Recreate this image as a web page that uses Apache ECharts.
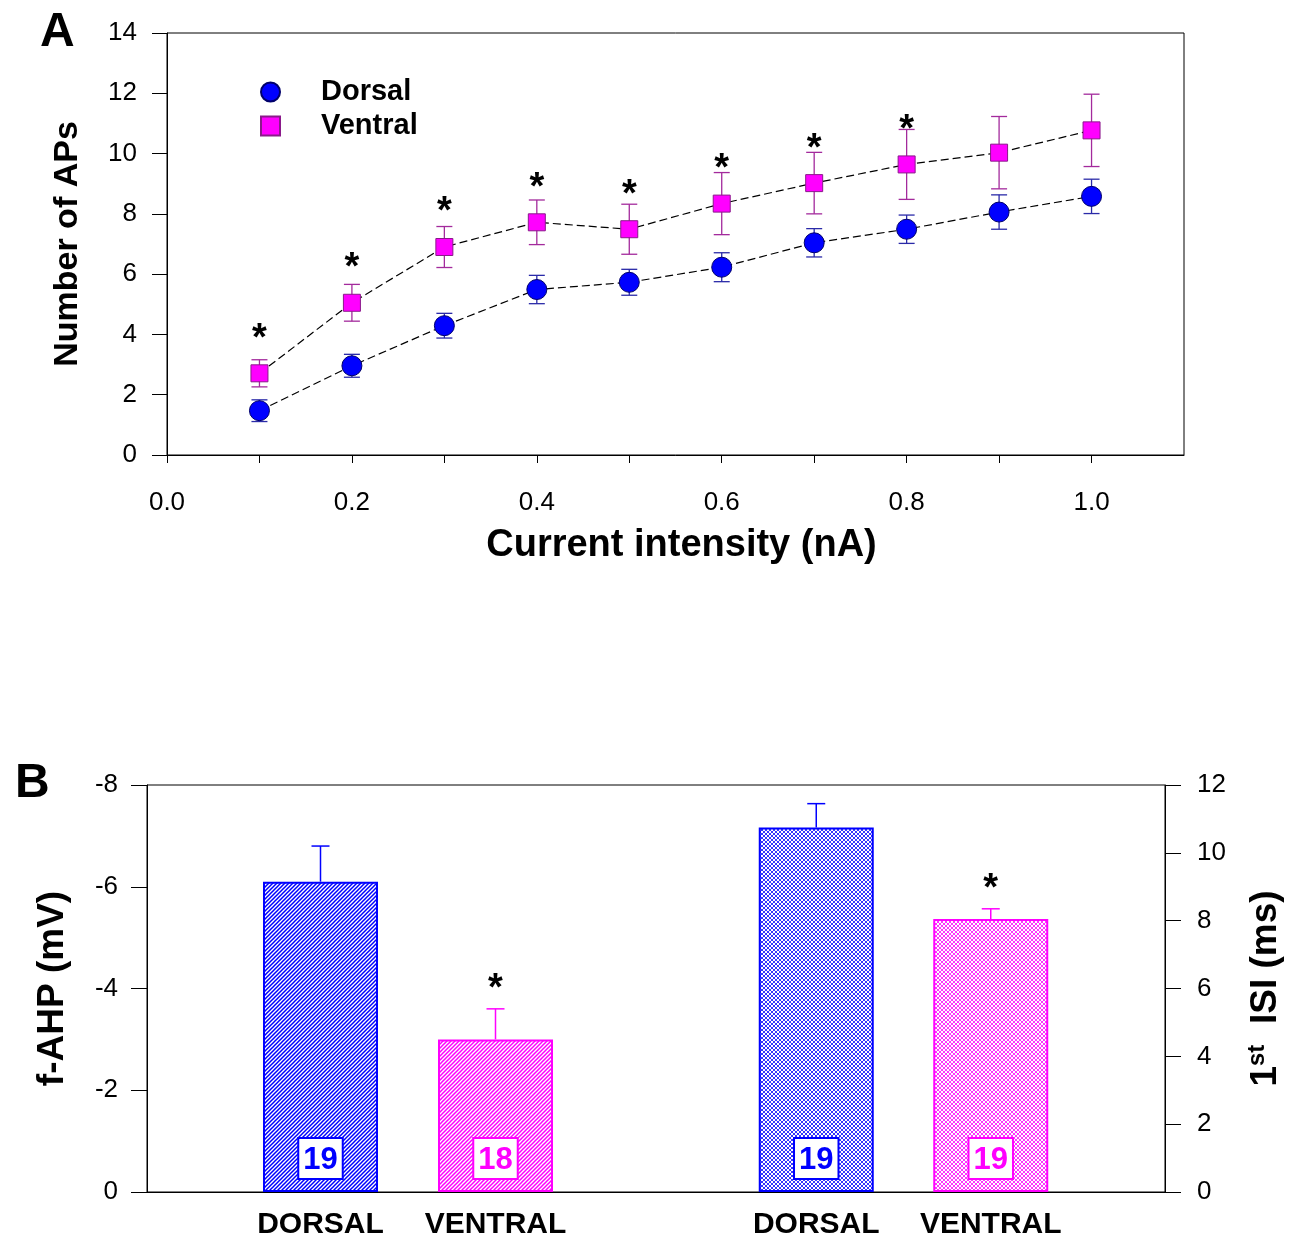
<!DOCTYPE html>
<html>
<head>
<meta charset="utf-8">
<script src="https://cdn.jsdelivr.net/npm/echarts@6/dist/echarts.min.js"></script>
<style>html,body{margin:0;padding:0;background:#fff}#c{width:1297px;height:1241px}</style>
</head>
<body>
<div id="c"></div>
<script>
// ---------- Panel A data ----------
const currentNA = [0.1, 0.2, 0.3, 0.4, 0.5, 0.6, 0.7, 0.8, 0.9, 1.0];
const dorsalMean = [1.47, 2.96, 4.29, 5.49, 5.73, 6.23, 7.04, 7.49, 8.06, 8.58];
const dorsalSem  = [0.36, 0.38, 0.41, 0.47, 0.43, 0.48, 0.47, 0.47, 0.57, 0.57];
const ventralMean = [2.71, 5.05, 6.90, 7.72, 7.49, 8.34, 9.02, 9.64, 10.03, 10.77];
const ventralSem  = [0.45, 0.61, 0.68, 0.74, 0.83, 1.03, 1.02, 1.16, 1.20, 1.20];
const topSignificant = [1, 1, 1, 1, 1, 1, 1, 1, 0, 0];

// ---------- Panel B data ----------
const groupLabels = ['DORSAL', 'VENTRAL'];
const fahpMean = [-6.1, -3.0];
const fahpSem  = [0.7, 0.6];
const fahpN    = [19, 18];
const fahpSig  = [0, 1];
const isiMean = [10.75, 8.05];
const isiSem  = [0.7, 0.3];
const isiN    = [19, 19];
const isiSig  = [0, 1];

const FONT = '"Liberation Sans", Arial, sans-serif';
const BLUE = '#0000ff', MAG = '#ff00ff';

function makePattern(color, cross) {
  const s = 4;
  const c = document.createElement('canvas');
  c.width = s; c.height = s;
  const ctx = c.getContext('2d');
  ctx.fillStyle = '#ffffff'; ctx.fillRect(0, 0, s, s);
  ctx.strokeStyle = color;
  ctx.lineWidth = cross ? 0.8 : 1.5;
  const seg = (x1, y1, x2, y2) => { ctx.beginPath(); ctx.moveTo(x1, y1); ctx.lineTo(x2, y2); ctx.stroke(); };
  for (let k = -s; k <= s; k += s) {
    seg(-1 + k, s + 1, s + 1 + k, -1);
    if (cross) seg(-1 + k, -1, s + 1 + k, s + 1);
  }
  return c;
}
const barColors = [BLUE, MAG];

function topErr(color) {
  return function (params, api) {
    const x = api.value(0), m = api.value(1), e = api.value(2);
    const t = api.coord([x, m + e]), b = api.coord([x, m - e]);
    const hw = 8;
    const st = { stroke: color, lineWidth: 1.3 };
    return { type: 'group', children: [
      { type: 'line', shape: { x1: t[0], y1: t[1], x2: b[0], y2: b[1] }, style: st },
      { type: 'line', shape: { x1: t[0] - hw, y1: t[1], x2: t[0] + hw, y2: t[1] }, style: st },
      { type: 'line', shape: { x1: b[0] - hw, y1: b[1], x2: b[0] + hw, y2: b[1] }, style: st }
    ]};
  };
}

function barErr(params, api) {
  const i = api.value(0), v = api.value(1), e = api.value(2), s = api.value(3);
  const base = api.coord([i, v]);
  const end = api.coord([i, v + Math.sign(v) * e]);
  const color = barColors[i];
  const st = { stroke: color, lineWidth: 1.5 };
  const ch = [
    { type: 'line', shape: { x1: base[0], y1: base[1], x2: end[0], y2: end[1] }, style: st },
    { type: 'line', shape: { x1: end[0] - 9, y1: end[1], x2: end[0] + 9, y2: end[1] }, style: st }
  ];
  if (s) ch.push({ type: 'text', style: { text: '*', x: end[0], y: end[1] - 19, fontSize: 38, fontWeight: 'bold', fontFamily: FONT, fill: '#000', align: 'center', verticalAlign: 'middle' } });
  return { type: 'group', children: ch };
}

function nLabel(color, arr) {
  return {
    show: true, position: 'insideBottom', distance: 14,
    formatter: p => String(arr[p.dataIndex]),
    color: color, fontSize: 31, fontWeight: 'bold', fontFamily: FONT,
    backgroundColor: '#fff', borderColor: color, borderWidth: 2,
    padding: [4, 4, 1, 4], lineHeight: 34
  };
}

const axisBlack = { lineStyle: { color: '#000', width: 1 } };

const option = {
  animation: false,
  backgroundColor: '#fff',
  textStyle: { fontFamily: FONT },
  title: [
    { text: 'A', left: 35, top: 4, textStyle: { fontSize: 48, fontWeight: 'bold', fontFamily: FONT, color: '#000' } },
    { text: 'B', left: 10, top: 755, textStyle: { fontSize: 48, fontWeight: 'bold', fontFamily: FONT, color: '#000' } }
  ],
  legend: {
    data: [{ name: 'Dorsal', icon: 'circle' }, { name: 'Ventral', icon: 'rect' }],
    orient: 'vertical', left: 255, top: 72,
    itemWidth: 19, itemHeight: 19, itemGap: 4,
    textStyle: { fontSize: 29, fontWeight: 'bold', fontFamily: FONT, color: '#000', padding: [0, 0, 0, 36], lineHeight: 30 }
  },
  grid: [
    { left: 167, right: 113, top: 33, bottom: 786, show: true, borderColor: '#000', borderWidth: 1 },
    { left: 147, right: 132, top: 785, bottom: 49, show: true, borderColor: '#000', borderWidth: 1 },
    { left: 233, right: 714, top: 785, bottom: 49 },
    { left: 729, right: 219, top: 785, bottom: 49 }
  ],
  xAxis: [
    { gridIndex: 0, type: 'value', min: 0, max: 1.1, interval: 0.1,
      axisLine: axisBlack, axisTick: { length: 8, lineStyle: { color: '#000' } }, splitLine: { show: false },
      axisLabel: { margin: 35, fontSize: 26, color: '#000', fontFamily: FONT, showMaxLabel: false,
        formatter: v => (Math.round(v * 10) % 2 === 0 && v < 1.05) ? v.toFixed(1) : '' },
      name: 'Current intensity (nA)', nameLocation: 'middle', nameGap: 72,
      nameTextStyle: { fontSize: 38, fontWeight: 'bold', color: '#000', fontFamily: FONT, padding: [0, 0, 0, 12] } },
    { gridIndex: 1, type: 'value', min: 0, max: 1, axisLine: axisBlack,
      axisTick: { show: false }, axisLabel: { show: false }, splitLine: { show: false } },
    { gridIndex: 2, type: 'category', data: groupLabels, axisLine: { show: false }, axisTick: { show: false },
      axisLabel: { interval: 0, margin: 18, fontSize: 30, fontWeight: 'bold', color: '#000', fontFamily: FONT } },
    { gridIndex: 3, type: 'category', data: groupLabels, axisLine: { show: false }, axisTick: { show: false },
      axisLabel: { interval: 0, margin: 18, fontSize: 30, fontWeight: 'bold', color: '#000', fontFamily: FONT } }
  ],
  yAxis: [
    { gridIndex: 0, type: 'value', min: 0, max: 14, interval: 2,
      axisLine: { show: true, lineStyle: { color: '#000' } }, axisTick: { show: true, length: 15, lineStyle: { color: '#000' } },
      splitLine: { show: false },
      axisLabel: { margin: 30, fontSize: 26, color: '#000', fontFamily: FONT },
      name: 'Number of APs', nameLocation: 'middle', nameRotate: 90, nameGap: 82,
      nameTextStyle: { fontSize: 34, fontWeight: 'bold', color: '#000', fontFamily: FONT } },
    { gridIndex: 1, type: 'value', min: -8, max: 0, interval: 2, inverse: true,
      axisLine: { show: true, lineStyle: { color: '#000' } }, axisTick: { show: true, length: 16, lineStyle: { color: '#000' } },
      splitLine: { show: false },
      axisLabel: { margin: 29, fontSize: 26, color: '#000', fontFamily: FONT },
      name: 'f-AHP (mV)', nameLocation: 'middle', nameRotate: 90, nameGap: 76,
      nameTextStyle: { fontSize: 37, fontWeight: 'bold', color: '#000', fontFamily: FONT } },
    { gridIndex: 1, type: 'value', position: 'right', min: 0, max: 12, interval: 2,
      axisLine: { show: true, lineStyle: { color: '#000' } }, axisTick: { show: true, length: 16, lineStyle: { color: '#000' } },
      splitLine: { show: false },
      axisLabel: { margin: 32, fontSize: 26, color: '#000', fontFamily: FONT },
      name: '{a|1}{s|st}{a|  ISI (ms)}', nameLocation: 'middle', nameRotate: 90, nameGap: 80,
      nameTextStyle: { color: '#000', fontFamily: FONT,
        rich: { a: { fontSize: 37, fontWeight: 'bold', fontFamily: FONT, color: '#000', lineHeight: 42 },
                s: { fontSize: 24, fontWeight: 'bold', fontFamily: FONT, color: '#000', verticalAlign: 'top', lineHeight: 26 } } } },
    { gridIndex: 2, type: 'value', min: -8, max: 0, inverse: true, show: false, splitLine: { show: false } },
    { gridIndex: 3, type: 'value', min: 0, max: 12, show: false, splitLine: { show: false } }
  ],
  series: [
    { name: 'Dorsal err', type: 'custom', xAxisIndex: 0, yAxisIndex: 0, z: 1,
      data: currentNA.map((x, i) => [x, dorsalMean[i], dorsalSem[i]]), renderItem: topErr('#2a2aa8') },
    { name: 'Ventral err', type: 'custom', xAxisIndex: 0, yAxisIndex: 0, z: 1,
      data: currentNA.map((x, i) => [x, ventralMean[i], ventralSem[i]]), renderItem: topErr('#a32a9c') },
    { name: 'Dorsal', type: 'line', xAxisIndex: 0, yAxisIndex: 0, z: 3,
      data: currentNA.map((x, i) => [x, dorsalMean[i]]),
      symbol: 'circle', symbolSize: 20,
      itemStyle: { color: BLUE, borderColor: '#00006a', borderWidth: 1 },
      lineStyle: { color: '#000', width: 1.2, type: [8, 4] } },
    { name: 'Ventral', type: 'line', xAxisIndex: 0, yAxisIndex: 0, z: 3,
      data: currentNA.map((x, i) => [x, ventralMean[i]]),
      symbol: 'rect', symbolSize: 17,
      itemStyle: { color: MAG, borderColor: '#8a1a8a', borderWidth: 1 },
      lineStyle: { color: '#000', width: 1.2, type: [8, 4] } },
    { name: 'sigTop', type: 'custom', xAxisIndex: 0, yAxisIndex: 0, z: 4,
      data: currentNA.map((x, i) => [x, ventralMean[i], topSignificant[i]]),
      renderItem: function (params, api) {
        if (!api.value(2)) return null;
        const p = api.coord([api.value(0), api.value(1)]);
        return { type: 'text', style: { text: '*', x: p[0], y: p[1] - 34, fontSize: 38, fontWeight: 'bold', fontFamily: FONT, fill: '#000', align: 'center', verticalAlign: 'middle' } };
      } },
    { name: 'fAHP', type: 'bar', xAxisIndex: 2, yAxisIndex: 3, barWidth: 115, z: 2,
      data: fahpMean.map((v, i) => ({
        value: v,
        itemStyle: { color: { image: makePattern(barColors[i], false), repeat: 'repeat' }, borderColor: barColors[i], borderWidth: 2 },
        label: nLabel(barColors[i], fahpN)
      })) },
    { name: 'fAHP err', type: 'custom', xAxisIndex: 2, yAxisIndex: 3, z: 3,
      data: fahpMean.map((v, i) => [i, v, fahpSem[i], fahpSig[i]]), renderItem: barErr },
    { name: 'ISI', type: 'bar', xAxisIndex: 3, yAxisIndex: 4, barWidth: 115, z: 2,
      data: isiMean.map((v, i) => ({
        value: v,
        itemStyle: { color: { image: makePattern(barColors[i], true), repeat: 'repeat' }, borderColor: barColors[i], borderWidth: 2 },
        label: nLabel(barColors[i], isiN)
      })) },
    { name: 'ISI err', type: 'custom', xAxisIndex: 3, yAxisIndex: 4, z: 3,
      data: isiMean.map((v, i) => [i, v, isiSem[i], isiSig[i]]), renderItem: barErr }
  ]
};

const chart = echarts.init(document.getElementById('c'), null, { renderer: 'canvas' });
chart.setOption(option);
</script>
</body>
</html>
